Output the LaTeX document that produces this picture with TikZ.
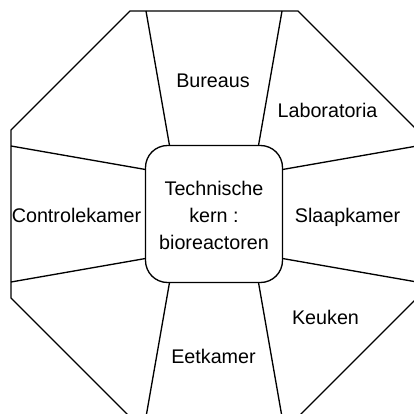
\documentclass[tikz,border=0pt]{standalone}
\usepackage{fontspec}
\setmainfont{Liberation Sans}

\tikzset{every picture/.style={line width=1pt}}
\tikzset{room/.style={anchor=base,inner sep=0.75pt,font=\fontsize{14.8pt}{20pt}\selectfont}}

\begin{document}
\begin{tikzpicture}[x=0.75pt,y=0.75pt,yscale=-1,xscale=1]
\useasboundingbox (0,0) rectangle (414,414);
\clip (0,0) rectangle (414,414);

%Shape: Octagon [id:outerwall]
\draw   (130,11) -- (298,11) -- (417,130) -- (417,298) -- (298,417) -- (130,417) -- (11,298) -- (11,130) -- cycle ;
%Shape: Rounded Rect [id:core]
\draw [rounded corners=16.5pt]  (145.5,145.5) rectangle (282.5,282.5) ;

%Straight Lines [id:wallTL]
\draw    (169.5,145.5) -- (146,11) ;
%Straight Lines [id:wallTR]
\draw    (258.5,145.5) -- (282,11) ;
%Straight Lines [id:wallRT]
\draw    (282.5,169.5) -- (417,146) ;
%Straight Lines [id:wallRB]
\draw    (282.5,258.5) -- (417,282) ;
%Straight Lines [id:wallBR]
\draw    (258.5,282.5) -- (282,417) ;
%Straight Lines [id:wallBL]
\draw    (169.5,282.5) -- (146,417) ;
%Straight Lines [id:wallLB]
\draw    (145.5,258.5) -- (11,282) ;
%Straight Lines [id:wallLT]
\draw    (145.5,169.5) -- (11,146) ;

% Text Node
\node [room] (core1) at (214,195) {Technische};
% Text Node
\node [room] (core2) at (214,222.5) {kern :};
% Text Node
\node [room] (core3) at (214,249) {bioreactoren};
% Text Node
\node [room] (bureaus) at (213,87) {Bureaus};
% Text Node
\node [room] (labo) at (327.5,117) {Laboratoria};
% Text Node
\node [room] (control) at (76.5,222.5) {Controlekamer};
% Text Node
\node [room] (slaap) at (347.5,222.5) {Slaapkamer};
% Text Node
\node [room] (keuken) at (325.5,324) {Keuken};
% Text Node
\node [room] (eet) at (213.5,363.5) {Eetkamer};

\end{tikzpicture}
\end{document}
